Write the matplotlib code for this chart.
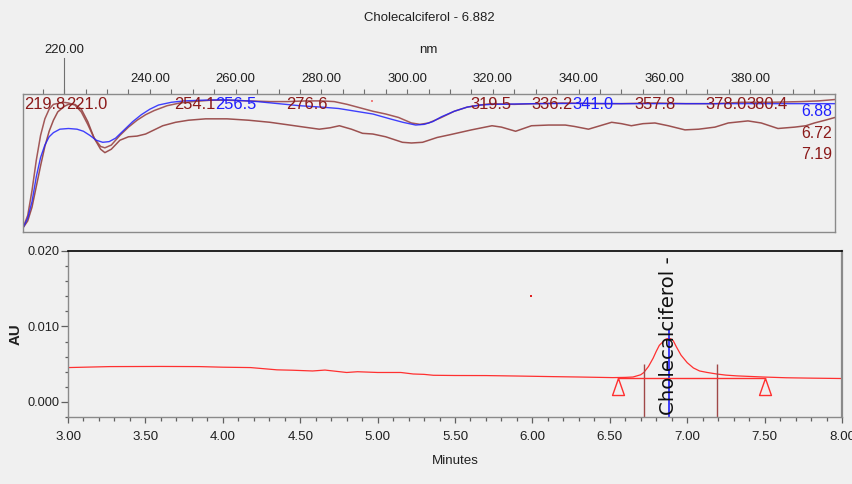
import numpy as np
import matplotlib
matplotlib.use('Agg')
import matplotlib.pyplot as plt
from matplotlib import font_manager
from matplotlib.ticker import MultipleLocator, FixedLocator, FormatStrFormatter
from matplotlib.transforms import blended_transform_factory

# ---- spectra (normalised absorbance vs wavelength, nm)
nm_688 = [210.4, 211.5, 212.5, 213.5, 214.5, 215.5, 216.5, 217.5, 219.0, 221.0, 223.0, 224.5,
          226.0, 227.5, 229.0, 230.5, 232.0, 234.0, 236.0, 238.0, 240.0, 242.0, 245.0, 248.0,
          252.0, 256.5, 260.0, 265.0, 270.0, 275.0, 280.0, 284.0, 288.0, 292.0, 296.0, 299.0,
          302.0, 304.0, 306.0, 308.0, 311.0, 314.0, 317.0, 320.0, 330.0, 341.0, 350.0, 360.0,
          370.0, 380.0, 390.0, 399.8]
ab_688 = [0.03, 0.10, 0.22, 0.40, 0.54, 0.63, 0.69, 0.72, 0.745, 0.75, 0.745, 0.73,
          0.70, 0.665, 0.65, 0.655, 0.68, 0.74, 0.80, 0.85, 0.89, 0.92, 0.94, 0.95,
          0.955, 0.958, 0.955, 0.945, 0.93, 0.915, 0.905, 0.895, 0.875, 0.855, 0.82, 0.795,
          0.775, 0.78, 0.80, 0.835, 0.875, 0.905, 0.92, 0.925, 0.93, 0.932, 0.93, 0.93,
          0.93, 0.93, 0.93, 0.93]

nm_672 = [210.4, 211.5, 212.5, 213.5, 214.5, 215.5, 216.5, 217.5, 219.8, 221.0, 222.5, 224.0,
          225.5, 227.0, 228.5, 229.5, 231.0, 233.0, 235.0, 237.0, 239.0, 241.0, 244.0, 247.0,
          250.0, 254.1, 258.0, 263.0, 268.0, 272.0, 276.6, 280.0, 283.0, 286.0, 289.0, 292.0,
          295.0, 298.0, 301.0, 303.0, 305.0, 308.0, 311.0, 314.0, 317.0, 319.5, 325.0, 330.0,
          336.2, 345.0, 350.0, 357.8, 365.0, 372.0, 378.0, 385.0, 392.0, 396.0, 399.8]
ab_672 = [0.03, 0.12, 0.30, 0.52, 0.70, 0.82, 0.89, 0.925, 0.94, 0.935, 0.92, 0.87,
          0.78, 0.68, 0.62, 0.61, 0.63, 0.70, 0.76, 0.81, 0.85, 0.88, 0.915, 0.935,
          0.945, 0.955, 0.955, 0.95, 0.945, 0.945, 0.95, 0.95, 0.945, 0.925, 0.90, 0.875,
          0.855, 0.83, 0.79, 0.78, 0.79, 0.83, 0.875, 0.905, 0.92, 0.93, 0.925, 0.93,
          0.935, 0.93, 0.93, 0.935, 0.93, 0.93, 0.94, 0.94, 0.945, 0.95, 0.96]

nm_719 = [210.4, 211.5, 212.5, 213.5, 214.5, 215.5, 216.5, 217.5, 218.5, 220.0, 221.0, 222.5,
          224.0, 225.5, 227.0, 228.5, 229.5, 231.0, 233.0, 235.0, 237.0, 239.0, 241.0, 243.0,
          246.0, 249.0, 253.0, 258.0, 263.0, 268.0, 272.6, 276.0, 279.5, 282.0, 284.2, 287.0,
          289.6, 292.0, 295.0, 298.9, 301.0, 303.6, 307.0, 310.0, 315.0, 319.8, 322.0, 325.3,
          329.0, 333.0, 336.9, 339.0, 342.3, 345.0, 347.7, 350.0, 352.3, 355.0, 357.8, 360.9,
          364.8, 368.0, 371.8, 374.9, 379.5, 382.6, 386.5, 390.4, 393.0, 395.0, 397.5, 399.8]
ab_719 = [0.03, 0.08, 0.18, 0.33, 0.48, 0.62, 0.73, 0.81, 0.87, 0.91, 0.925, 0.925,
          0.89, 0.80, 0.68, 0.60, 0.575, 0.60, 0.665, 0.69, 0.695, 0.71, 0.74, 0.77,
          0.795, 0.81, 0.82, 0.82, 0.81, 0.795, 0.775, 0.76, 0.745, 0.755, 0.77, 0.745,
          0.715, 0.71, 0.69, 0.65, 0.645, 0.65, 0.685, 0.705, 0.74, 0.77, 0.76, 0.73,
          0.77, 0.775, 0.775, 0.765, 0.745, 0.77, 0.795, 0.785, 0.77, 0.785, 0.79, 0.77,
          0.74, 0.745, 0.76, 0.79, 0.805, 0.79, 0.75, 0.76, 0.77, 0.79, 0.81, 0.83]

peak_nm = [219.8, 221.0, 254.1, 256.5, 276.6, 319.5, 336.2, 341.0, 357.8, 378.0, 380.4]
peak_src = ['6.72', '7.19', '6.72', '6.88', '6.72', '6.72', '6.72', '6.88', '7.19', '6.72', '7.19']
extract_nm = 220.0

# ---- chromatogram (minutes, AU)
t_min = [3.00, 3.27, 3.60, 3.85, 4.00, 4.18, 4.35, 4.45, 4.58, 4.66, 4.80, 4.87, 5.00, 5.15,
         5.23, 5.30, 5.36, 5.50, 5.70, 5.90, 6.135, 6.30, 6.52, 6.60, 6.65, 6.70, 6.72, 6.75,
         6.78, 6.80, 6.82, 6.85, 6.86, 6.87, 6.882, 6.89, 6.90, 6.91, 6.93, 6.96, 7.00, 7.04,
         7.08, 7.13, 7.19, 7.25, 7.32, 7.40, 7.49, 7.64, 7.80, 8.00]
au = [0.00455, 0.00468, 0.0047, 0.00468, 0.0046, 0.00455, 0.00425, 0.0042, 0.0041, 0.00422,
      0.0039, 0.0040, 0.0039, 0.0039, 0.0037, 0.00365, 0.00353, 0.0035, 0.00349, 0.00343,
      0.00335, 0.0033, 0.00322, 0.00325, 0.0033, 0.0036, 0.0039, 0.0047, 0.0058, 0.0067,
      0.0075, 0.0081, 0.0083, 0.00838, 0.0084, 0.00838, 0.0083, 0.0081, 0.0073, 0.0062,
      0.0052, 0.0045, 0.0041, 0.0039, 0.0037, 0.00355, 0.00345, 0.00338, 0.0033, 0.0032,
      0.00315, 0.0031]

peak_name = 'Cholecalciferol'
peak_rt = 6.882
spec_times = [6.72, 7.19]
int_start, int_end, int_base = 6.55, 7.50, 0.0032

# fonts: a narrow face if present, since the labels are tall and thin
names = {f.name for f in font_manager.fontManager.ttflist}
if 'Liberation Sans Narrow' in names:
    NARROW, WIDE = 'Liberation Sans Narrow', 1 / 0.82
else:
    NARROW, WIDE = 'Liberation Sans', 1.06
plt.rcParams['font.family'] = [NARROW, 'DejaVu Sans']


def fs(px):
    return px * WIDE * 0.72


BG = '#f0f0f0'
DARKRED = '#8b1a1a'
BLUE = '#2020ff'
GREY = '#8a8a8a'

fig = plt.figure(figsize=(8.53, 4.84), dpi=100, facecolor=BG)
ax1 = fig.add_axes([23 / 853, 1 - 232 / 484, 812 / 853, 138 / 484])
ax2 = fig.add_axes([68 / 853, 1 - 417 / 484, 774 / 853, 166 / 484])

# ---------------- spectrum panel
ax1.set_facecolor(BG)
ax1.plot(nm_719, ab_719, color='#93403f', lw=1.1, alpha=0.9)
ax1.plot(nm_672, ab_672, color='#9a4848', lw=1.1, alpha=0.9)
ax1.plot(nm_688, ab_688, color=BLUE, lw=1.0, alpha=0.85)
ax1.plot(291.9, 0.95, 's', ms=1.5, color='#f08080', mew=0)
ax1.set_xlim(210.4, 399.8)
ax1.set_ylim(0, 1)
ax1.xaxis.tick_top()
ax1.xaxis.set_major_locator(FixedLocator(range(240, 400, 20)))
ax1.xaxis.set_minor_locator(MultipleLocator(5))
ax1.xaxis.set_major_formatter(FormatStrFormatter('%.2f'))
ax1.tick_params(axis='x', which='both', direction='out', length=3.6, width=0.8,
                color='#707070', pad=3.0, labelsize=fs(12.4), labelcolor='#202020')
ax1.set_yticks([])
for s in ax1.spines.values():
    s.set_color(GREY)
    s.set_linewidth(1.0)

top = blended_transform_factory(ax1.transData, ax1.transAxes)
ax1.plot([extract_nm, extract_nm], [1, 1 + 36 / 138], transform=top, clip_on=False,
         color='#707070', lw=0.8)
ax1.text(extract_nm, 1 + 182 / 138 - 1, '%.2f' % extract_nm, transform=top, ha='center',
         va='center', fontsize=fs(12.4), color='#202020')

colour_of = {'6.88': BLUE, '6.72': DARKRED, '7.19': DARKRED}
ylab = 0.924
i = 0
while i < len(peak_nm):
    if i + 1 < len(peak_nm) and peak_nm[i + 1] - peak_nm[i] < 6:
        mid = (peak_nm[i] + peak_nm[i + 1]) / 2
        ax1.text(mid, ylab, '%.1f' % peak_nm[i], ha='right', va='center',
                 fontsize=fs(15.6), color=colour_of[peak_src[i]])
        ax1.text(mid, ylab, '%.1f' % peak_nm[i + 1], ha='left', va='center',
                 fontsize=fs(15.6), color=colour_of[peak_src[i + 1]])
        i += 2
    else:
        ax1.text(peak_nm[i], ylab, '%.1f' % peak_nm[i], ha='center', va='center',
                 fontsize=fs(15.6), color=colour_of[peak_src[i]])
        i += 1

for lab, yy in zip(['6.88', '6.72', '7.19'], [0.87, 0.712, 0.558]):
    ax1.text(0.996, yy, lab, transform=ax1.transAxes, ha='right', va='center',
             fontsize=fs(15.0), color=colour_of[lab])

fig.text(428 / 853, 1 - 50 / 484, 'nm', ha='center', va='center', fontsize=fs(12.5),
         color='#202020')
fig.text(429 / 853, 1 - 18 / 484, '%s - %.3f' % (peak_name, peak_rt), ha='center',
         va='center', fontsize=fs(12.4), color='#202020')

# ---------------- chromatogram panel
ax2.set_facecolor(BG)
ax2.plot(t_min, au, color='#ff3030', lw=0.9)
ax2.vlines(spec_times, -0.002, 0.0050, colors='#a04848', lw=1.0)
ax2.vlines(peak_rt, -0.002, 0.0095, colors=BLUE, lw=1.2)
ax2.plot([int_start, int_end], [int_base, int_base], color='#ff3030', lw=1.0)
tri = [(0, 0), (-0.35, -1), (0.35, -1), (0, 0)]
ax2.plot([int_start, int_end], [int_base, int_base], ls='none', marker=tri, ms=24.5,
         mfc='none', mec='#ff3030', mew=1.0)
ax2.plot(5.99, 0.0141, 's', ms=1.8, color='#e02020', mew=0)
ax2.text(peak_rt, -0.00172, '%s - %.3f' % (peak_name, peak_rt), rotation=90,
         ha='center', va='bottom', clip_on=True, fontsize=14.2,
         family=['DejaVu Sans'], color='#101010')

ax2.set_xlim(3, 8)
ax2.set_ylim(-0.002, 0.020)
ax2.xaxis.set_major_locator(MultipleLocator(0.5))
ax2.xaxis.set_minor_locator(MultipleLocator(0.1))
ax2.xaxis.set_major_formatter(FormatStrFormatter('%.2f'))
ax2.yaxis.set_major_locator(FixedLocator([0.0, 0.01, 0.02]))
ax2.yaxis.set_minor_locator(MultipleLocator(0.002))
ax2.yaxis.set_major_formatter(FormatStrFormatter('%.3f'))
ax2.tick_params(axis='x', which='major', length=4.3, width=0.9, color='#606060', pad=6,
                labelsize=fs(12.6), labelcolor='#202020')
ax2.tick_params(axis='x', which='minor', length=3.0, width=0.9, color='#606060')
ax2.tick_params(axis='y', which='major', length=5.0, width=0.9, color='#606060', pad=1,
                labelsize=fs(12.0), labelcolor='#202020')
ax2.tick_params(axis='y', which='minor', length=2.2, width=0.9, color='#606060')
for k in ['left', 'bottom']:
    ax2.spines[k].set_color(GREY)
    ax2.spines[k].set_linewidth(1.0)
ax2.spines['right'].set_color(GREY)
ax2.spines['right'].set_linewidth(1.6)
ax2.spines['top'].set_color('black')
ax2.spines['top'].set_linewidth(1.2)

ax2.set_xlabel('Minutes', fontsize=fs(12.6), color='#202020')
ax2.xaxis.set_label_coords(0.5, -(455 - 417) / 166)
ax2.set_ylabel('AU', fontsize=10.8, fontweight='bold', color='#202020',
               family=['Liberation Sans', 'DejaVu Sans'])
ax2.yaxis.set_label_coords(-(68 - 23) / 774, 0.5)

fig.savefig('out.png', dpi=100, facecolor=BG)
